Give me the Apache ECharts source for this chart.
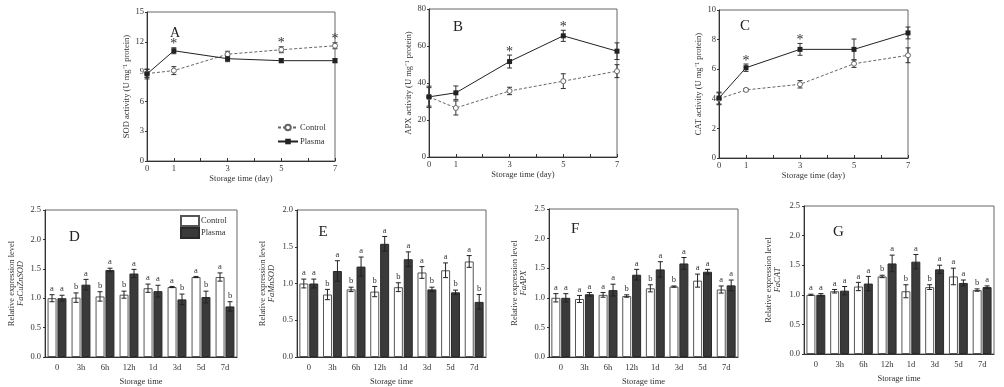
<!DOCTYPE html>
<html><head><meta charset="utf-8">
<script src="https://cdn.jsdelivr.net/npm/echarts@6/dist/echarts.min.js"></script>
<style>html,body{margin:0;padding:0;background:#fff}#c{width:1004px;height:387px}</style>
</head><body><div id="c"></div>
<script>
// ---------- data ----------
const topDays = [0, 1, 3, 5, 7];
const topTickLabels = [0, 1, 3, 5, 7];

const sodControl    = [8.8, 9.1, 10.75, 11.2, 11.6];
const sodControlErr = [0.4, 0.4, 0.3, 0.3, 0.3];
const sodPlasma     = [8.76, 11.1, 10.3, 10.1, 10.1];
const sodPlasmaErr  = [0.5, 0.3, 0.3, 0.2, 0.2];
const sodStars      = [0, 1, 0, 1, 1];

const apxControl    = [32.5, 26.5, 35.7, 41.0, 46.4];
const apxControlErr = [5.0, 3.8, 2.0, 4.0, 3.5];
const apxPlasma     = [32.5, 34.7, 51.6, 65.5, 57.2];
const apxPlasmaErr  = [5.8, 3.7, 3.5, 3.0, 4.5];
const apxStars      = [0, 0, 1, 1, 0];

const catControl    = [4.0, 4.6, 4.98, 6.37, 6.94];
const catControlErr = [0.4, 0.1, 0.25, 0.25, 0.5];
const catPlasma     = [4.05, 6.1, 7.34, 7.34, 8.45];
const catPlasmaErr  = [0.4, 0.25, 0.4, 0.7, 0.4];
const catStars      = [0, 1, 1, 0, 0];

const barCategories = ['0', '3h', '6h', '12h', '1d', '3d', '5d', '7d'];

const cuznControl       = [1.0, 1.01, 1.03, 1.06, 1.17, 1.19, 1.36, 1.36];
const cuznControlErr    = [0.06, 0.08, 0.08, 0.06, 0.07, 0.01, 0.01, 0.07];
const cuznControlLetter = ['a', 'b', 'b', 'b', 'a', 'a', 'a', 'a'];
const cuznPlasma        = [1.0, 1.23, 1.48, 1.42, 1.12, 0.98, 1.02, 0.86];
const cuznPlasmaErr     = [0.05, 0.09, 0.03, 0.07, 0.10, 0.09, 0.10, 0.08];
const cuznPlasmaLetter  = ['a', 'a', 'a', 'a', 'a', 'b', 'b', 'b'];

const mnControl       = [1.0, 0.85, 0.92, 0.89, 0.95, 1.15, 1.18, 1.30];
const mnControlErr    = [0.06, 0.07, 0.03, 0.07, 0.06, 0.08, 0.10, 0.08];
const mnControlLetter = ['a', 'b', 'b', 'b', 'b', 'a', 'a', 'a'];
const mnPlasma        = [1.0, 1.17, 1.23, 1.54, 1.33, 0.92, 0.88, 0.75];
const mnPlasmaErr     = [0.06, 0.14, 0.13, 0.10, 0.10, 0.03, 0.03, 0.10];
const mnPlasmaLetter  = ['a', 'a', 'a', 'a', 'a', 'b', 'b', 'b'];

const apxGControl       = [1.0, 0.98, 1.05, 1.03, 1.16, 1.19, 1.29, 1.14];
const apxGControlErr    = [0.07, 0.06, 0.04, 0.02, 0.06, 0.01, 0.11, 0.06];
const apxGControlLetter = ['a', 'a', 'a', 'b', 'b', 'b', 'a', 'a'];
const apxGPlasma        = [1.0, 1.06, 1.13, 1.39, 1.48, 1.58, 1.44, 1.21];
const apxGPlasmaErr     = [0.07, 0.03, 0.10, 0.09, 0.13, 0.10, 0.04, 0.09];
const apxGPlasmaLetter  = ['a', 'a', 'a', 'a', 'a', 'a', 'a', 'a'];

const catGControl       = [1.0, 1.06, 1.14, 1.31, 1.06, 1.13, 1.31, 1.08];
const catGControlErr    = [0.01, 0.03, 0.07, 0.02, 0.11, 0.04, 0.14, 0.02];
const catGControlLetter = ['a', 'a', 'a', 'b', 'b', 'b', 'a', 'b'];
const catGPlasma        = [1.0, 1.07, 1.19, 1.53, 1.56, 1.43, 1.20, 1.13];
const catGPlasmaErr     = [0.02, 0.07, 0.12, 0.14, 0.12, 0.07, 0.05, 0.02];
const catGPlasmaLetter  = ['a', 'a', 'a', 'a', 'a', 'a', 'a', 'a'];

// ---------- layout / style ----------
const FONT = 'Liberation Serif';
const TXT = '#333';
const FS = 8.5;

const topPanels = [
  {label: 'A', grid: {left: 147, top: 12, width: 188, height: 149}, yMax: 15, yInt: 3,
   yName: 'SOD activity (U mg\u207B\u00B9 protein)', nameGap: 9,
   c: sodControl, ce: sodControlErr, p: sodPlasma, pe: sodPlasmaErr, s: sodStars,
   title: {left: 170, top: 26, size: 14}},
  {label: 'B', grid: {left: 429, top: 9, width: 188, height: 148}, yMax: 80, yInt: 20,
   yName: 'APX activity (U mg\u207B\u00B9 protein)', nameGap: 15,
   c: apxControl, ce: apxControlErr, p: apxPlasma, pe: apxPlasmaErr, s: apxStars,
   title: {left: 453, top: 20, size: 15}},
  {label: 'C', grid: {left: 719, top: 10, width: 189, height: 148}, yMax: 10, yInt: 2,
   yName: 'CAT activity (U mg\u207B\u00B9 protein)', nameGap: 15,
   c: catControl, ce: catControlErr, p: catPlasma, pe: catPlasmaErr, s: catStars,
   title: {left: 740, top: 19, size: 15}}
];

const barPanels = [
  {label: 'D', grid: {left: 45, top: 210, width: 192, height: 148}, yMax: 2.5, gene: 'FaCuZnSOD', nameGap: 20,
   c: cuznControl, ce: cuznControlErr, cl: cuznControlLetter, p: cuznPlasma, pe: cuznPlasmaErr, pl: cuznPlasmaLetter,
   title: {left: 69, top: 230, size: 15}},
  {label: 'E', grid: {left: 297, top: 210, width: 189, height: 148}, yMax: 2.0, gene: 'FaMnSOD', nameGap: 21,
   c: mnControl, ce: mnControlErr, cl: mnControlLetter, p: mnPlasma, pe: mnPlasmaErr, pl: mnPlasmaLetter,
   title: {left: 318.5, top: 224.5, size: 15}},
  {label: 'F', grid: {left: 549, top: 209, width: 189, height: 149}, yMax: 2.5, gene: 'FaAPX', nameGap: 21,
   c: apxGControl, ce: apxGControlErr, cl: apxGControlLetter, p: apxGPlasma, pe: apxGPlasmaErr, pl: apxGPlasmaLetter,
   title: {left: 571, top: 222, size: 15}},
  {label: 'G', grid: {left: 804, top: 206, width: 190, height: 148}, yMax: 2.5, gene: 'FaCAT', nameGap: 22,
   c: catGControl, ce: catGControlErr, cl: catGControlLetter, p: catGPlasma, pe: catGPlasmaErr, pl: catGPlasmaLetter,
   title: {left: 833, top: 225, size: 15}}
];

const grids = [], xAxes = [], yAxes = [], series = [], titles = [];

function axisCommon() {
  return {
    axisLine: {show: true, lineStyle: {color: '#333', width: 1}},
    splitLine: {show: false},
    axisLabel: {fontFamily: FONT, fontSize: FS, color: TXT, margin: 3},
    nameTextStyle: {fontFamily: FONT, fontSize: FS, color: TXT}
  };
}

function lineErr(ai, xs, vals, errs, cap) {
  return {
    type: 'custom', xAxisIndex: ai, yAxisIndex: ai, silent: true, z: 1,
    data: xs.map((x, i) => [x, vals[i], errs[i]]),
    renderItem(params, api) {
      const x = api.value(0), v = api.value(1), e = api.value(2);
      const hi = api.coord([x, v + e]), lo = api.coord([x, v - e]);
      const h = cap / 2, st = {stroke: '#333', lineWidth: 1};
      return {type: 'group', children: [
        {type: 'line', shape: {x1: hi[0], y1: hi[1], x2: lo[0], y2: lo[1]}, style: st},
        {type: 'line', shape: {x1: hi[0] - h, y1: hi[1], x2: hi[0] + h, y2: hi[1]}, style: st},
        {type: 'line', shape: {x1: lo[0] - h, y1: lo[1], x2: lo[0] + h, y2: lo[1]}, style: st}
      ]};
    }
  };
}

function starSeries(ai, P) {
  const d = [];
  topDays.forEach((x, i) => {
    if (P.s[i]) d.push([x, Math.max(P.c[i] + P.ce[i], P.p[i] + P.pe[i])]);
  });
  return {
    type: 'custom', xAxisIndex: ai, yAxisIndex: ai, silent: true, z: 4, data: d,
    renderItem(params, api) {
      const pt = api.coord([api.value(0), api.value(1)]);
      return {type: 'text', style: {text: '*', x: pt[0], y: pt[1] + 4, align: 'center', verticalAlign: 'bottom',
        font: '14px "' + FONT + '"', fill: '#333'}};
    }
  };
}

function barErr(ai, vals, errs, letters, side) {
  return {
    type: 'custom', xAxisIndex: ai, yAxisIndex: ai, silent: true, z: 5,
    data: vals.map((v, i) => [i, v, errs[i]]),
    renderItem(params, api) {
      const i = params.dataIndex;
      const c = api.value(0), v = api.value(1), e = api.value(2);
      const cx = api.coord([c, v])[0] + side * 5;
      const hi = api.coord([c, v + e])[1], lo = api.coord([c, v - e])[1];
      const h = 2.5, st = {stroke: '#222', lineWidth: 1};
      return {type: 'group', children: [
        {type: 'line', shape: {x1: cx, y1: hi, x2: cx, y2: lo}, style: st},
        {type: 'line', shape: {x1: cx - h, y1: hi, x2: cx + h, y2: hi}, style: st},
        {type: 'line', shape: {x1: cx - h, y1: lo, x2: cx + h, y2: lo}, style: st},
        {type: 'text', style: {text: letters[i], x: cx, y: hi - 1.5, align: 'center', verticalAlign: 'bottom',
          font: FS + 'px "' + FONT + '"', fill: '#333'}}
      ]};
    }
  };
}

let ai = 0;
topPanels.forEach(P => {
  grids.push(Object.assign({show: true, borderColor: '#666', borderWidth: 1, containLabel: false}, P.grid));
  xAxes.push(Object.assign(axisCommon(), {
    gridIndex: ai, type: 'value', min: 0, max: 7, interval: 1,
    name: 'Storage time (day)', nameLocation: 'middle', nameGap: 13,
    axisTick: {show: true, inside: true, length: 3, lineStyle: {color: '#333'}},
    axisLabel: {fontFamily: FONT, fontSize: FS, color: TXT, margin: 3,
      formatter: v => topTickLabels.indexOf(v) >= 0 ? String(v) : ''}
  }));
  yAxes.push(Object.assign(axisCommon(), {
    gridIndex: ai, type: 'value', min: 0, max: P.yMax, interval: P.yInt,
    name: P.yName, nameLocation: 'middle', nameGap: P.nameGap,
    axisTick: {show: true, inside: false, length: 2, lineStyle: {color: '#333'}}
  }));
  series.push(lineErr(ai, topDays, P.c, P.ce, 5));
  series.push(lineErr(ai, topDays, P.p, P.pe, 5));
  series.push({
    name: 'Control', type: 'line', xAxisIndex: ai, yAxisIndex: ai, z: 3,
    data: topDays.map((x, i) => [x, P.c[i]]),
    symbol: 'circle', symbolSize: 5,
    lineStyle: {color: '#666', width: 1, type: [3, 2]},
    itemStyle: {color: '#fff', borderColor: '#666', borderWidth: 1}
  });
  series.push({
    name: 'Plasma', type: 'line', xAxisIndex: ai, yAxisIndex: ai, z: 3,
    data: topDays.map((x, i) => [x, P.p[i]]),
    symbol: 'rect', symbolSize: 5,
    lineStyle: {color: '#222', width: 1},
    itemStyle: {color: '#222', borderColor: '#222', borderWidth: 0}
  });
  series.push(starSeries(ai, P));
  titles.push({text: P.label, left: P.title.left, top: P.title.top, padding: 0,
    textStyle: {fontFamily: FONT, fontSize: P.title.size, fontWeight: 'normal', color: '#222'}});
  ai++;
});

barPanels.forEach(P => {
  grids.push(Object.assign({show: true, borderColor: '#666', borderWidth: 1, containLabel: false}, P.grid));
  xAxes.push(Object.assign(axisCommon(), {
    gridIndex: ai, type: 'category', data: barCategories,
    name: 'Storage time', nameLocation: 'middle', nameGap: 20,
    axisTick: {show: false},
    axisLabel: {fontFamily: FONT, fontSize: FS, color: TXT, margin: 6}
  }));
  yAxes.push(Object.assign(axisCommon(), {
    gridIndex: ai, type: 'value', min: 0, max: P.yMax, interval: 0.5,
    name: 'Relative expression level\n{i|' + P.gene + '}', nameLocation: 'middle', nameGap: P.nameGap,
    nameTextStyle: {fontFamily: FONT, fontSize: FS, color: TXT, lineHeight: 9,
      rich: {i: {fontFamily: FONT, fontSize: FS, fontStyle: 'italic', color: TXT, lineHeight: 9}}},
    axisTick: {show: true, inside: false, length: 2, lineStyle: {color: '#333'}},
    axisLabel: {fontFamily: FONT, fontSize: FS, color: TXT, margin: 4, formatter: v => v.toFixed(1)}
  }));
  series.push({
    name: 'Control ', type: 'bar', xAxisIndex: ai, yAxisIndex: ai, data: P.c,
    barWidth: 9, barGap: '10%', z: 2,
    itemStyle: {color: '#fff', borderColor: '#555', borderWidth: 1}
  });
  series.push({
    name: 'Plasma ', type: 'bar', xAxisIndex: ai, yAxisIndex: ai, data: P.p,
    barWidth: 9, barGap: '10%', z: 2,
    itemStyle: {color: '#3a3a3a', borderColor: '#2a2a2a', borderWidth: 1}
  });
  series.push(barErr(ai, P.c, P.ce, P.cl, -1));
  series.push(barErr(ai, P.p, P.pe, P.pl, 1));
  titles.push({text: P.label, left: P.title.left, top: P.title.top, padding: 0,
    textStyle: {fontFamily: FONT, fontSize: P.title.size, fontWeight: 'normal', color: '#222'}});
  ai++;
});

const option = {
  animation: false,
  backgroundColor: '#fff',
  title: titles,
  grid: grids,
  xAxis: xAxes,
  yAxis: yAxes,
  legend: [
    {data: ['Control', 'Plasma'], orient: 'vertical', left: 277, top: 123, padding: 0,
     itemWidth: 20, itemHeight: 7, itemGap: 5, selectedMode: false,
     textStyle: {fontFamily: FONT, fontSize: FS, color: TXT, padding: [0, 0, 0, -3]}},
    {data: ['Control ', 'Plasma '], orient: 'vertical', left: 180, top: 215, padding: 0,
     itemWidth: 18, itemHeight: 10, itemGap: 0, selectedMode: false, icon: 'rect',
     textStyle: {fontFamily: FONT, fontSize: FS, color: TXT, padding: [0, 0, 0, -3]}}
  ],
  series: series
};

const chart = echarts.init(document.getElementById('c'), null, {renderer: 'canvas'});
chart.setOption(option);
</script>
</body></html>
